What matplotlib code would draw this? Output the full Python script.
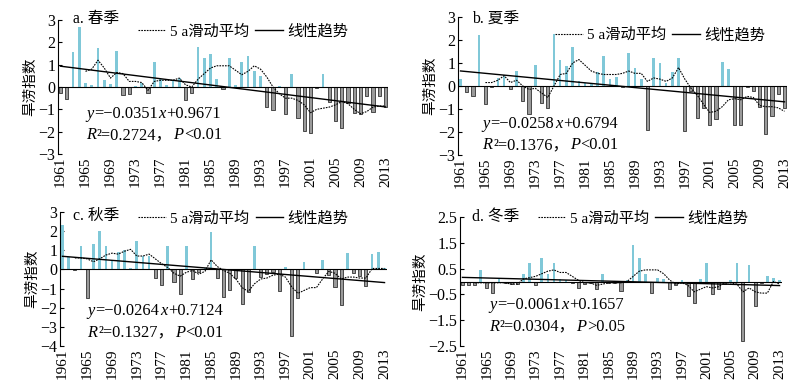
import numpy as np
import matplotlib
matplotlib.use("Agg")
import matplotlib.pyplot as plt
from matplotlib.lines import Line2D
from matplotlib.offsetbox import TextArea, HPacker, VPacker, AnchoredOffsetbox

plt.rcParams['font.family'] = ['Liberation Serif', 'Noto Sans CJK SC']
plt.rcParams['axes.unicode_minus'] = True

years = np.arange(1961, 2014)

# drought/flood index per season
spring = [-0.25, -0.55, 1.55, 2.7, 0.2, 0.1, 1.75, 0.3, 0.15, 1.6,
          -0.35, -0.3, 0.05, 0.2, -0.25, 1.1, 0.35, 0.1, 0.3, 0.4,
          -0.6, -0.25, 1.8, 1.3, 1.5, 0.35, -0.1, 1.3, 0.1, 1.1,
          1.4, 0.7, 0.5, -0.9, -1.05, 0.05, -1.2, 0.6, -1.37, -1.97,
          -2.05, -0.05, 0.6, -0.67, -1.52, -1.82, -0.73, -1.15, -1.2, -0.4,
          -1.1, -0.4, -0.9]
summer = [0.3, -0.25, -0.45, 2.2, -0.8, -0.05, 0.35, 0.5, -0.15, 0.65,
          -0.65, -1.2, 0.9, -0.75, -0.95, 2.25, 1.15, 0.85, 1.7, 0.2,
          0.15, 0.1, 0.6, 1.3, 0.3, 0.4, -0.05, 1.45, 0.8, 0.3,
          -1.9, 1.2, 1.0, 0.15, 0.6, 1.2, -1.95, -0.2, -1.4, -0.95,
          -1.7, -1.45, 1.05, 0.75, -1.7, -1.7, -0.05, -0.2, -0.9, -2.1,
          -1.3, -0.35, -0.95]
autumn = [2.3, 0.65, -0.05, 1.25, -1.5, 1.35, 2.0, 1.25, 0.5, 0.9,
          1.0, 0.1, 1.5, 0.7, 0.7, -0.45, -0.8, 1.2, -0.65, -1.3,
          1.2, -0.5, -0.15, 0.05, 1.95, -0.45, -1.45, -1.1, -0.45, -1.8,
          -1.2, 1.2, -0.4, -0.25, -0.15, -1.15, 0.15, -3.5, -1.5, 0.4,
          0.02, -0.2, 0.5, -0.3, -0.9, -1.85, 0.85, -0.2, -0.35, -0.85,
          0.8, 0.9, 0.05]
winter = [-0.15, -0.15, -0.15, 0.45, -0.25, -0.45, 0.1, -0.05, -0.1, -0.1,
          0.3, 0.7, -0.15, 0.9, 0.3, 0.7, 0.1, 0.05, -0.05, -0.25,
          -0.1, -0.05, -0.3, 0.3, -0.05, -0.05, -0.35, 0.05, 1.4, 0.9,
          0.3, -0.45, 0.15, 0.1, -0.3, -0.15, 0.05, -0.55, -0.85, 0.1,
          0.7, -0.5, -0.3, -0.1, 0.05, 0.7, -2.3, 0.65, -0.95, -0.05,
          0.2, 0.15, 0.05]

# 5-year moving average curves as drawn (start year, values)
ma_spring = (1965, [0.7, 0.8, 1.2, 0.85, 0.4, 0.65, 0.6, 0.25, 0.25, 0.2,
                    -0.15, 0.25, 0.3, 0.3, 0.3, 0.4, 0.1, 0.0, 0.35, 0.6,
                    0.85, 0.95, 0.95, 0.95, 0.75, 0.55, 0.7, 0.95, 0.8, 0.45,
                    0.0, -0.3, -0.5, -0.5, -0.6, -0.8, -1.15, -1.0, -0.95, -0.9,
                    -0.8, -0.65, -0.75, -1.0, -1.2, -1.1, -0.9, -0.85, -0.85])
ma_summer = (1965, [0.15, 0.15, 0.25, 0.45, 0.15, 0.25, 0.0, -0.15, -0.1, -0.3,
                    -0.5, 0.0, 0.5, 0.55, 1.0, 1.15, 0.9, 0.65, 0.55, 0.5,
                    0.5, 0.5, 0.55, 0.65, 0.55, 0.55, 0.2, 0.35, 0.3, 0.2,
                    0.35, 0.8, 0.3, -0.1, -0.4, -0.8, -1.15, -1.1, -0.9, -0.6,
                    -0.55, -0.6, -0.45, -0.5, -0.85, -0.9, -0.9, -0.95, -1.1])
ma_autumn = (1963, [0.6, 0.6, 0.55, 0.4, 0.55, 0.75, 0.85, 0.8, 0.95, 1.05,
                    0.7, 0.7, 0.8, 0.55, 0.3, 0.1, -0.2, -0.35, -0.15, -0.05,
                    -0.25, -0.1, 0.5, 0.15, -0.05, -0.2, -0.5, -0.95, -1.15, -0.75,
                    -0.5, -0.45, -0.3, -0.25, -0.4, -0.9, -1.25, -1.1, -0.95, -0.95,
                    -0.5, -0.1, -0.2, -0.5, -0.4, -0.4, -0.45, -0.45, 0.05, 0.05,
                    0.05])
ma_winter = (1963, [-0.05, -0.05, -0.05, -0.05, -0.05, -0.05, -0.1, -0.1, 0.1, 0.15,
                    0.2, 0.3, 0.4, 0.45, 0.35, 0.35, 0.2, 0.05, -0.05, -0.05,
                    -0.15, -0.1, -0.05, -0.05, -0.05, 0.0, 0.2, 0.4, 0.45, 0.45,
                    0.45, 0.3, 0.05, -0.1, -0.05, -0.15, -0.4, -0.3, -0.2, -0.25,
                    -0.2, -0.05, -0.05, -0.1, -0.4, -0.25, -0.4, -0.45, -0.45, 0.0,
                    -0.1])

# trend line coefficients (x = 1..53)
slopes = [-0.0351, -0.0258, -0.0264, -0.0061]
intercepts = [0.9671, 0.6794, 0.7124, 0.1657]
r2 = ['0.2724', '0.1376', '0.1327', '0.0304']
pvals = ['<0.01', '<0.01', '<0.01', '>0.05']
titles = ['a. 春季', 'b. 夏季', 'c. 秋季', 'd. 冬季']

W, H = 797, 384
fig = plt.figure(figsize=(W / 100, H / 100), dpi=100)


def px_axes(l, r, t, b):
    return fig.add_axes([l / W, 1 - b / H, (r - l) / W, (b - t) / H])


boxes = [(58, 388, 20, 154), (458, 787, 17, 155), (60, 387, 212, 346), (460, 782, 217, 346)]
ylims = [(-3, 3), (-3, 3), (-4, 3), (-2.5, 2.5)]
yticks = [np.arange(-3, 4), np.arange(-3, 4), np.arange(-4, 4), np.arange(-2.5, 3, 1.0)]
title_pos = [(0.045, 1.01), (0.043, 0.98), (0.04, 0.97), (0.037, 1.0)]
leg_pos = [(0.242, 0.915), (0.295, 0.87), (0.239, 0.953), (0.242, 0.99)]
eq_pos = [(0.085, 0.36), (0.074, 0.285), (0.084, 0.32), (0.09, 0.38)]

series = [spring, summer, autumn, winter]
mas = [ma_spring, ma_summer, ma_autumn, ma_winter]
FS = 11.5
pos_color = '#80c8d8'
neg_face = '#9a9a9a'

for i in range(4):
    ax = px_axes(*boxes[i])
    vals = np.array(series[i])
    pos = vals >= 0
    ax.bar(years[pos], vals[pos], width=0.42, color=pos_color, edgecolor='none', zorder=2)
    ax.bar(years[~pos], vals[~pos], width=0.5, color=neg_face, edgecolor='#333333',
           linewidth=0.6, zorder=2)

    start, mv = mas[i]
    ma_years = np.arange(start, start + len(mv))
    ax.plot(ma_years, mv, color='k', lw=0.8, ls=(0, (1.5, 1.0)), zorder=3)

    idx = years - 1960
    ax.plot(years, slopes[i] * idx + intercepts[i], color='k', lw=1.0, zorder=3)

    ax.axhline(0, color='k', lw=0.8, zorder=4)

    ax.set_xlim(1960.6, 2013.4)
    ax.set_ylim(*ylims[i])
    ax.set_yticks(yticks[i])
    if i == 3:
        ax.set_yticklabels(['%g' % v if v >= 0 else '\u2212%g' % -v for v in yticks[i]])
    ax.set_xticks(np.arange(1961, 2014, 4))
    for s in ['top', 'right', 'bottom']:
        ax.spines[s].set_visible(False)
    ax.spines['left'].set_linewidth(0.8)
    ax.tick_params(axis='y', direction='in', length=3, width=0.8, pad=2, labelsize=FS)
    ax.tick_params(axis='x', length=0, pad=2, labelsize=FS - 0.5, labelrotation=90)
    ax.set_ylabel('旱涝指数', family='Noto Sans CJK SC', fontsize=10.5, labelpad=1)

    ax.text(title_pos[i][0], title_pos[i][1], titles[i], transform=ax.transAxes,
            fontsize=11.3, va='center', ha='left')

    handles = [Line2D([], [], color='k', lw=0.8, ls=(0, (1.5, 1.0))),
               Line2D([], [], color='k', lw=1.0)]
    ax.legend(handles, ['5 a滑动平均', '线性趋势'], ncol=2, frameon=False,
              loc='center left', bbox_to_anchor=leg_pos[i], borderaxespad=0,
              borderpad=0, handlelength=1.8, handletextpad=0.3, columnspacing=0.4,
              prop={'family': ['Liberation Serif', 'Noto Sans CJK SC'], 'size': 11})

    it = dict(fontsize=11.8, style='italic', family='Liberation Serif')
    rm = dict(fontsize=11.8, family=['Liberation Serif', 'Noto Sans CJK SC'])
    line1 = HPacker(children=[TextArea('y', textprops=it),
                              TextArea('=\u2212%.4f' % -slopes[i], textprops=rm),
                              TextArea('x', textprops=it),
                              TextArea('+%.4f' % intercepts[i], textprops=rm)],
                    pad=0, sep=0.5)
    line2 = HPacker(children=[TextArea('R', textprops=it),
                              TextArea('\u00b2=%s，' % r2[i], textprops=rm),
                              TextArea('P', textprops=it),
                              TextArea(pvals[i], textprops=rm)],
                    pad=0, sep=0.5)
    box = VPacker(children=[line1, line2], pad=0, sep=4, align='left')
    ab = AnchoredOffsetbox(loc='upper left', child=box, bbox_to_anchor=eq_pos[i],
                           bbox_transform=ax.transAxes, frameon=False, pad=0, borderpad=0)
    ax.add_artist(ab)

fig.savefig('out.png', dpi=100)
